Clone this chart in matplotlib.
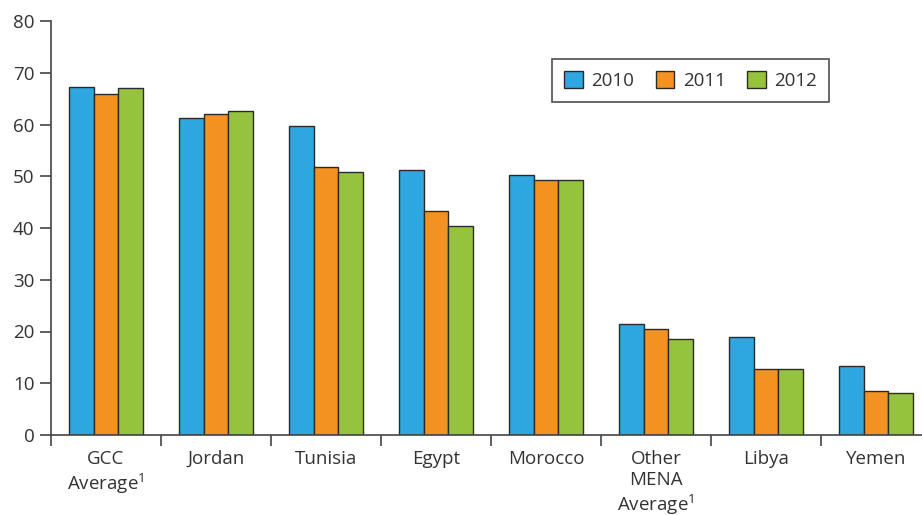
"""Grouped bar chart: values for MENA countries, 2010-2012."""

from matplotlib import pyplot as plt
import numpy as np

plt.rcParams['font.family'] = ['Open Sans', 'DejaVu Sans']
plt.rcParams['mathtext.default'] = 'regular'

categories = ['GCC\nAverage$^1$', 'Jordan', 'Tunisia', 'Egypt', 'Morocco',
              'Other\nMENA\nAverage$^1$', 'Libya', 'Yemen']
years = ['2010', '2011', '2012']
values_2010 = [67.2, 61.3, 59.8, 51.2, 50.3, 21.4, 19.0, 13.3]
values_2011 = [65.8, 62.1, 51.7, 43.2, 49.3, 20.4, 12.7, 8.5]
values_2012 = [67.0, 62.6, 50.8, 40.3, 49.3, 18.5, 12.8, 8.1]
colors = ['#2EA7E0', '#F39221', '#96C33E']

text_color = '#333333'
fig = plt.figure(figsize=(9.22, 5.15), dpi=100)
ax = fig.add_axes([51 / 922, 80 / 515, 880 / 922, 414 / 515])

x = np.arange(len(categories))
width = 0.223
series = [values_2010, values_2011, values_2012]
for i, (label, vals, col) in enumerate(zip(years, series, colors)):
    ax.bar(x + (i - 1) * width, vals, width, color=col, edgecolor='#2b2b2b',
           linewidth=1.0, label=label)

ax.set_xlim(-0.5, len(categories) - 0.5)
ax.set_ylim(0, 80)
ax.set_yticks(range(0, 81, 10))

# category ticks sit on the group boundaries, labels in the middle
ax.set_xticks(np.arange(len(categories)) - 0.5)
ax.set_xticklabels([])
ax.set_xticks(x, minor=True)
ax.set_xticklabels(categories, minor=True, linespacing=1.2)
ax.tick_params(axis='x', which='minor', length=0, pad=11,
               labelsize=13.5, labelcolor=text_color)
ax.tick_params(axis='x', which='major', length=8, width=1.2,
               direction='out', color='#444444')
ax.tick_params(axis='y', length=8, width=1.2, direction='out',
               color='#444444', labelsize=13.5, labelcolor=text_color, pad=4)

for side in ['top', 'right']:
    ax.spines[side].set_visible(False)
for side in ['left', 'bottom']:
    ax.spines[side].set_color('#444444')
    ax.spines[side].set_linewidth(1.2)

leg = ax.legend(ncol=3, loc='upper left', bbox_to_anchor=(0.569, 0.908),
                borderaxespad=0, fontsize=13.5, frameon=True, fancybox=False,
                edgecolor='#222222', handlelength=1.0, handleheight=1.0,
                columnspacing=1.15, handletextpad=0.45, borderpad=0.65,
                labelcolor=text_color)
leg.get_frame().set_linewidth(1.2)

fig.savefig('out.png', dpi=100)
